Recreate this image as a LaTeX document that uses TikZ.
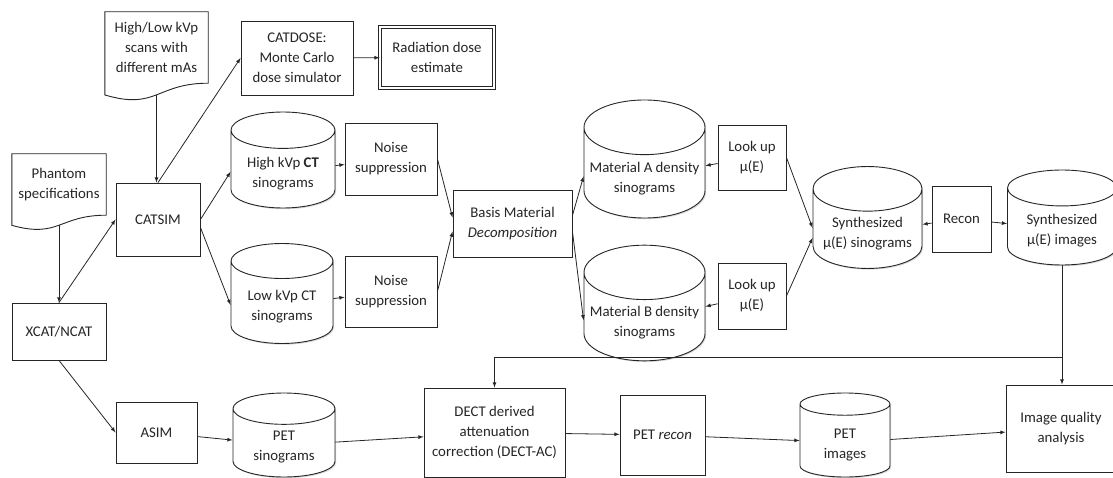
\documentclass[tikz,border=0pt]{standalone}
\usepackage{fontspec}
\setmainfont{Carlito}
\usetikzlibrary{shapes.geometric,shadows,calc}

\tikzset{
  every node/.style={font=\fontsize{14.8}{20}\selectfont, text=black!85},
  box/.style={draw=black!85, line width=0.9pt, fill=white, align=center, inner sep=2pt,
    drop shadow={shadow xshift=1.2pt, shadow yshift=-1.2pt, fill=black!30}},
  store/.style={cylinder, shape border rotate=90, aspect=0.48, draw=black!85, line width=0.9pt,
    fill=white, align=center, inner sep=2pt, anchor=shape center, text height=34pt,
    drop shadow={shadow xshift=1.2pt, shadow yshift=-1.2pt, fill=black!30}},
  docnode/.style={align=center, inner sep=0pt},
  arr/.style={->, line width=0.8pt, draw=black!85},
}

% outline of a document node with a wavy lower edge
\newcommand{\docshape}[1]{%
  \draw[line width=0.9pt, draw=black!85] (#1.north west) -- (#1.north east) -- (#1.south east)
    .. controls (#1.south) and ($(#1.north)!1.381!(#1.south)$) .. ($(#1.north west)!1.1646!(#1.south west)$)
    -- cycle;
  \coordinate (#1-b) at ($(#1.north)!1.163!(#1.south)$);
}

\begin{document}
\begin{tikzpicture}[x=1pt,y=-1pt,>=latex]
\useasboundingbox (0,0) rectangle (1113,478);

% inputs
\node[docnode, minimum width=103pt, minimum height=71pt] (hilo) at (156.5,47.5) {High/Low kVp\\scans with\\different mAs};
\docshape{hilo}
\node[docnode, minimum width=94pt, minimum height=61pt] (phantom) at (59,184.5) {Phantom\\specifications};
\docshape{phantom}

% simulators
\node[box, minimum width=84pt, minimum height=73pt] (catsim) at (158,219.5) {CATSIM};
\node[box, minimum width=94pt, minimum height=57pt] (xcat) at (59,331.5) {XCAT/NCAT};
\node[box, minimum width=81pt, minimum height=61pt] (asim) at (156.5,432.5) {ASIM};
\node[box, minimum width=112pt, minimum height=74pt] (catdose) at (297,58) {CATDOSE:\\Monte Carlo\\dose simulator};
\node[box, double, double distance=1.5pt, minimum width=114pt, minimum height=61pt] (dose) at (437,57.5) {Radiation dose\\estimate};

% CT branch
\node[store, minimum width=104pt, minimum height=96pt] (hikvp) at (283,160) {High kVp \textbf{CT}\\sinograms};
\node[store, minimum width=102pt, minimum height=100pt] (lokvp) at (282,293.5) {Low kVp CT\\sinograms};
\node[box, minimum width=92pt, minimum height=72pt] (noise1) at (391,159) {Noise\\suppression};
\node[box, minimum width=92pt, minimum height=71pt] (noise2) at (391,291.5) {Noise\\suppression};
\node[box, minimum width=119pt, minimum height=67pt] (bmd) at (512.5,223.5) {Basis Material\\\textit{Decomposition}};
\node[store, minimum width=121pt, minimum height=118pt] (matA) at (644.5,159) {Material A density\\sinograms};
\node[store, minimum width=121pt, minimum height=100pt] (matB) at (644.5,303) {Material B density\\sinograms};
\node[box, minimum width=68pt, minimum height=65pt] (lookA) at (752,157.5) {Look up\\µ(E)};
\node[box, minimum width=68pt, minimum height=66pt] (lookB) at (752,296) {Look up\\µ(E)};
\node[store, minimum width=109pt, minimum height=95pt] (synS) at (867.5,217.5) {Synthesized\\µ(E) sinograms};
\node[box, minimum width=59pt, minimum height=66pt] (recon) at (961.5,219) {Recon};
\node[store, minimum width=109pt, minimum height=95pt] (synI) at (1062,217.5) {Synthesized\\µ(E) images};

% PET branch
\node[store, minimum width=102pt, minimum height=84pt] (petsino) at (284,435) {PET\\sinograms};
\node[box, minimum width=141pt, minimum height=89pt] (dectac) at (494.5,432.5) {DECT derived\\attenuation\\correction (DECT-AC)};
\node[box, minimum width=85pt, minimum height=80pt] (petrecon) at (662.5,435) {PET \textit{recon}};
\node[store, minimum width=90pt, minimum height=84pt] (petimg) at (845,435) {PET\\images};
\node[box, minimum width=110pt, minimum height=87pt] (iqa) at (1061,428.5) {Image quality\\analysis};

% connectors
\draw[arr] (hilo-b) -- (hilo-b |- catsim.north);
\draw[arr] (catsim.north) -- (catdose.west);
\draw[arr] (catdose) -- (dose);
\draw[arr] (phantom-b) -- (phantom-b |- xcat.north);
\draw[arr] (xcat.north) -- (catsim.west);
\draw[arr] (xcat.south) -- (asim.west);
\draw[arr] (catsim.east) -- (hikvp.west);
\draw[arr] ([yshift=-8pt]catsim.east) -- (lokvp.west);
\draw[arr] (hikvp) -- (noise1);
\draw[arr] (lokvp) -- (noise2);
\draw[arr] (noise1.east) -- ([yshift=6pt]bmd.west);
\draw[arr] (noise2.east) -- ([yshift=-8pt]bmd.west);
\draw[arr] ([yshift=8pt]bmd.east) -- (matA.west);
\draw[arr] ([yshift=-8pt]bmd.east) -- (matB.west);
\draw[arr] (lookA) -- (matA);
\draw[arr] (lookB) -- (matB);
\draw[arr] (lookA.east) -- ([yshift=4pt]synS.west);
\draw[arr] (lookB.east) -- ([yshift=-6pt]synS.west);
\draw[arr] (recon) -- (synS);
\draw[arr] (recon) -- (synI);
\draw[arr] (synI.south) -- (synI.south |- iqa.north);
\coordinate (fb) at (1062,357);
\draw[arr] (fb) -| (dectac.north);
\draw[arr] (asim) -- (petsino);
\draw[arr] (petsino) -- (dectac);
\draw[arr] (dectac) -- (petrecon);
\draw[arr] (petrecon) -- (petimg);
\draw[arr] (petimg) -- (iqa);
\end{tikzpicture}
\end{document}
